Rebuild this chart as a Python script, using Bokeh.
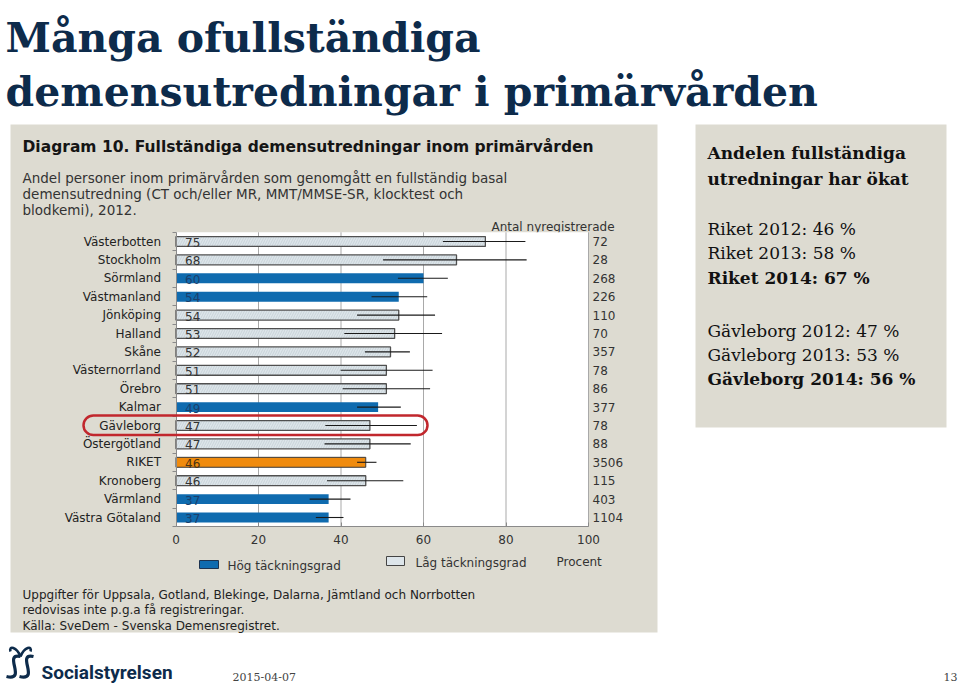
from bokeh.plotting import figure
from bokeh.models import Range1d, LinearAxis, FixedTicker, ColumnDataSource, BoxAnnotation
from bokeh.core.properties import value
from bokeh.embed import file_html
from bokeh.resources import INLINE

# ---------------- data ----------------
regions = ["Västerbotten", "Stockholm", "Sörmland", "Västmanland", "Jönköping", "Halland",
           "Skåne", "Västernorrland", "Örebro", "Kalmar", "Gävleborg", "Östergötland",
           "RIKET", "Kronoberg", "Värmland", "Västra Götaland"]
percent = [75, 68, 60, 54, 54, 53, 52, 51, 51, 49, 47, 47, 46, 46, 37, 37]
ci_low = [64.7, 50.2, 53.8, 47.4, 43.9, 40.8, 45.8, 39.9, 40.4, 43.9, 36.2, 36.0, 43.9, 36.6, 32.4, 33.9]
ci_high = [84.7, 85.0, 65.9, 60.9, 62.8, 64.5, 56.7, 62.2, 61.6, 54.5, 58.4, 56.9, 48.6, 55.1, 42.3, 40.6]
coverage = ["Låg", "Låg", "Hög", "Hög", "Låg", "Låg", "Låg", "Låg", "Låg", "Hög", "Låg", "Låg",
            "Riket", "Låg", "Hög", "Hög"]
new_registrations = [72, 28, 268, 226, 110, 70, 357, 78, 86, 377, 78, 88, 3506, 115, 403, 1104]
x_ticks = [0, 20, 40, 60, 80, 100]
highlight = "Gävleborg"

slide_title = ["Många ofullständiga", "demensutredningar i primärvården"]
chart_title = "Diagram 10. Fullständiga demensutredningar inom primärvården"
chart_subtitle = ["Andel personer inom primärvården som genomgått en fullständig basal",
                  "demensutredning (CT och/eller MR, MMT/MMSE-SR, klocktest och",
                  "blodkemi), 2012."]
count_header = "Antal nyregistrerade"
legend_labels = ["Hög täckningsgrad", "Låg täckningsgrad"]
unit_label = "Procent"
notes = ["Uppgifter för Uppsala, Gotland, Blekinge, Dalarna, Jämtland  och Norrbotten",
         "redovisas inte p.g.a få registreringar.",
         "Källa: SveDem - Svenska Demensregistret."]
box_header = ["Andelen fullständiga", "utredningar har ökat"]
riket_lines = ["Riket 2012: 46 %", "Riket 2013: 58 %", "Riket 2014: 67 %"]
gavle_lines = ["Gävleborg 2012: 47 %", "Gävleborg 2013: 53 %", "Gävleborg 2014: 56 %"]
footer_date = "2015-04-07"
page_no = "13"
org_name = "Socialstyrelsen"

# ---------------- styles ----------------
BEIGE = "#dddbd1"
NAVY = "#0d2b4b"
BLUE = "#0f6baf"
LIGHT = "#dde5ea"
ORANGE = "#f08b0e"
SANS = "DejaVu Sans"
SERIF = "DejaVu Serif"

W, H = 960, 685
p = figure(width=W, height=H, x_range=Range1d(0, W), y_range=Range1d(H, 0),
           output_backend="svg", toolbar_location=None, x_axis_type=None, y_axis_type=None,
           min_border=0, outline_line_color=None, background_fill_color="white",
           border_fill_color="white")

# chart coordinate systems (value axis and category index) placed on the page
X0, X100 = 175.5, 588.0
ppu = (X100 - X0) / 100.0
p.extra_x_ranges = {"val": Range1d(-X0 / ppu, 100 + (W - X100) / ppu)}
Y_FIRST, STEP = 241.0, 18.4
p.extra_y_ranges = {"cat": Range1d((H - Y_FIRST) / STEP, (0 - Y_FIRST) / STEP)}
C = dict(x_range_name="val", y_range_name="cat")

n = len(regions)
idx = list(range(n))
top_edge, bottom_edge = -0.5, n - 0.5


def label(x, y, s, size, font=SANS, style="normal", color="#222", align="left",
          baseline="alphabetic", **kw):
    p.text(x=[x], y=[y], text=[s], text_font=value(font), text_font_size=value(f"{size}px"),
           text_font_style=style, text_color=color, text_align=align, text_baseline=baseline, **kw)


# ---------------- slide title ----------------
label(5, 37, slide_title[0], 41, font=SERIF, style="bold", color=NAVY)
label(5, 91, slide_title[1], 41, font=SERIF, style="bold", color=NAVY)

# ---------------- beige panels ----------------
p.quad(left=10, right=657, top=124, bottom=632, fill_color=BEIGE, line_color=None)
p.quad(left=695, right=946, top=124, bottom=427, fill_color=BEIGE, line_color=None)

# chart texts
label(22, 146, chart_title, 15.5, style="bold", color="#151515")
for i, s in enumerate(chart_subtitle):
    label(22, 177 + i * 16, s, 13.5, color="#333333")
label(491, 226, count_header, 12, color="#333333")

# plot area
p.quad(left=[0], right=[100], top=[top_edge], bottom=[bottom_edge], fill_color="white",
       line_color=None, **C)
grid_x = x_ticks[1:]
p.segment(x0=grid_x, y0=[top_edge] * len(grid_x), x1=grid_x, y1=[bottom_edge] * len(grid_x),
          line_color="#a9a9a9", line_width=1, **C)

# bars
def subset(kind):
    sel = [i for i in idx if coverage[i] == kind]
    return ColumnDataSource(dict(y=[idx[i] for i in sel], v=[percent[i] for i in sel],
                                 t=[str(percent[i]) for i in sel]))

src_low, src_high, src_rik = subset("Låg"), subset("Hög"), subset("Riket")
BAR_H = 0.54
p.hbar(y="y", left=0, right="v", height=BAR_H, source=src_low, fill_color=LIGHT,
       line_color="#505050", line_width=1.3, hatch_pattern="/", hatch_color="#bcc7cf",
       hatch_scale=5, hatch_weight=0.6, **C)
p.hbar(y="y", left=0, right="v", height=BAR_H, source=src_high, fill_color=BLUE,
       line_color=None, **C)
p.hbar(y="y", left=0, right="v", height=BAR_H, source=src_rik, fill_color=ORANGE,
       line_color="#3a3a3a", line_width=1, **C)

# confidence intervals
p.segment(x0=ci_low, y0=idx, x1=ci_high, y1=idx, line_color="#1a1a1a", line_width=1.1, **C)

# value labels
for src, col in ((src_low, "#333333"), (src_high, "#1c3f6c"), (src_rik, "#4a3414")):
    p.text(x=0, y="y", text="t", source=src, x_offset=9, y_offset=1, text_align="left",
           text_baseline="middle", text_font=value(SANS), text_font_size=value("12px"),
           text_color=col, **C)

# counts
p.text(x=100, y=idx, text=[str(v) for v in new_registrations], x_offset=4, text_align="left",
       text_baseline="middle", text_font=value(SANS), text_font_size=value("12px"),
       text_color="#333333", **C)

# axes
xaxis = LinearAxis(x_range_name="val", y_range_name="cat", fixed_location=bottom_edge,
                   bounds=(0, 100), ticker=FixedTicker(ticks=x_ticks),
                   major_tick_in=4, major_tick_out=0, minor_tick_in=0, minor_tick_out=0,
                   axis_line_color="#8a8a8a", major_tick_line_color="#8a8a8a",
                   major_label_text_font=SANS, major_label_text_font_size="12px",
                   major_label_text_color="#333333", major_label_standoff=8)
p.add_layout(xaxis, "below")

yaxis = LinearAxis(x_range_name="val", y_range_name="cat", fixed_location=0,
                   bounds=(top_edge, bottom_edge),
                   ticker=FixedTicker(ticks=idx, minor_ticks=[i - 0.5 for i in range(n + 1)]),
                   major_label_overrides={i: r for i, r in enumerate(regions)},
                   major_tick_in=0, major_tick_out=0, minor_tick_in=0, minor_tick_out=4,
                   axis_line_color="#8a8a8a", minor_tick_line_color="#8a8a8a",
                   major_label_text_font=SANS, major_label_text_font_size="12px",
                   major_label_text_color="#222222", major_label_standoff=11)
p.add_layout(yaxis, "left")

# highlight around one region
hi = regions.index(highlight)
p.add_layout(BoxAnnotation(left=(83 - X0) / ppu, right=(427 - X0) / ppu, top=hi - 0.55,
                           bottom=hi + 0.52, fill_alpha=0, line_color="#c1272d", line_alpha=1,
                           line_width=2.5, border_radius=11, **C))

# legend
p.quad(left=199, right=218, top=560, bottom=568, fill_color=BLUE, line_color="#1d3350", line_width=1)
label(227, 565, legend_labels[0], 12, color="#333333", baseline="middle")
p.quad(left=386, right=404, top=556, bottom=565, fill_color=LIGHT, line_color="#444444", line_width=1)
label(415, 562, legend_labels[1], 12, color="#333333", baseline="middle")
label(556, 561, unit_label, 12, color="#333333", baseline="middle")

# notes
label(22, 594, notes[0], 12, color="#222222")
label(22, 609, notes[1], 12, color="#222222")
label(22, 625, notes[2], 12, color="#222222")

# ---------------- right text box ----------------
label(707, 152, box_header[0], 17, font=SERIF, style="bold", color="#111111")
label(707, 178, box_header[1], 17, font=SERIF, style="bold", color="#111111")
for i, s in enumerate(riket_lines):
    label(707, 228 + i * 24.5, s, 17, font=SERIF, style="bold" if i == 2 else "normal", color="#111111")
for i, s in enumerate(gavle_lines):
    label(707, 330 + i * 24, s, 17, font=SERIF, style="bold" if i == 2 else "normal", color="#111111")

# ---------------- footer ----------------
# logo mark: two intertwined S-curves below a heart-shaped top
p.bezier(x0=[20, 33], y0=[656, 656], x1=[6, 19], y1=[676, 676],
         cx0=[2, 15], cy0=[652, 652], cx1=[27, 40], cy1=[681, 681],
         line_color=NAVY, line_width=3.2)
p.bezier(x0=[20, 20], y0=[656, 656], x1=[10, 30], y1=[651, 651],
         cx0=[16, 24], cy0=[646, 646], cx1=[8, 32], cy1=[645, 645],
         line_color=NAVY, line_width=2.6)
label(41, 672, org_name, 19, font="Roboto", style="bold", color=NAVY)
label(232, 676, footer_date, 11, font=SERIF, color="#444444")
label(957, 676, page_no, 11, font=SERIF, color="#444444", align="right")

open("out.html", "w").write(file_html(p, INLINE))
